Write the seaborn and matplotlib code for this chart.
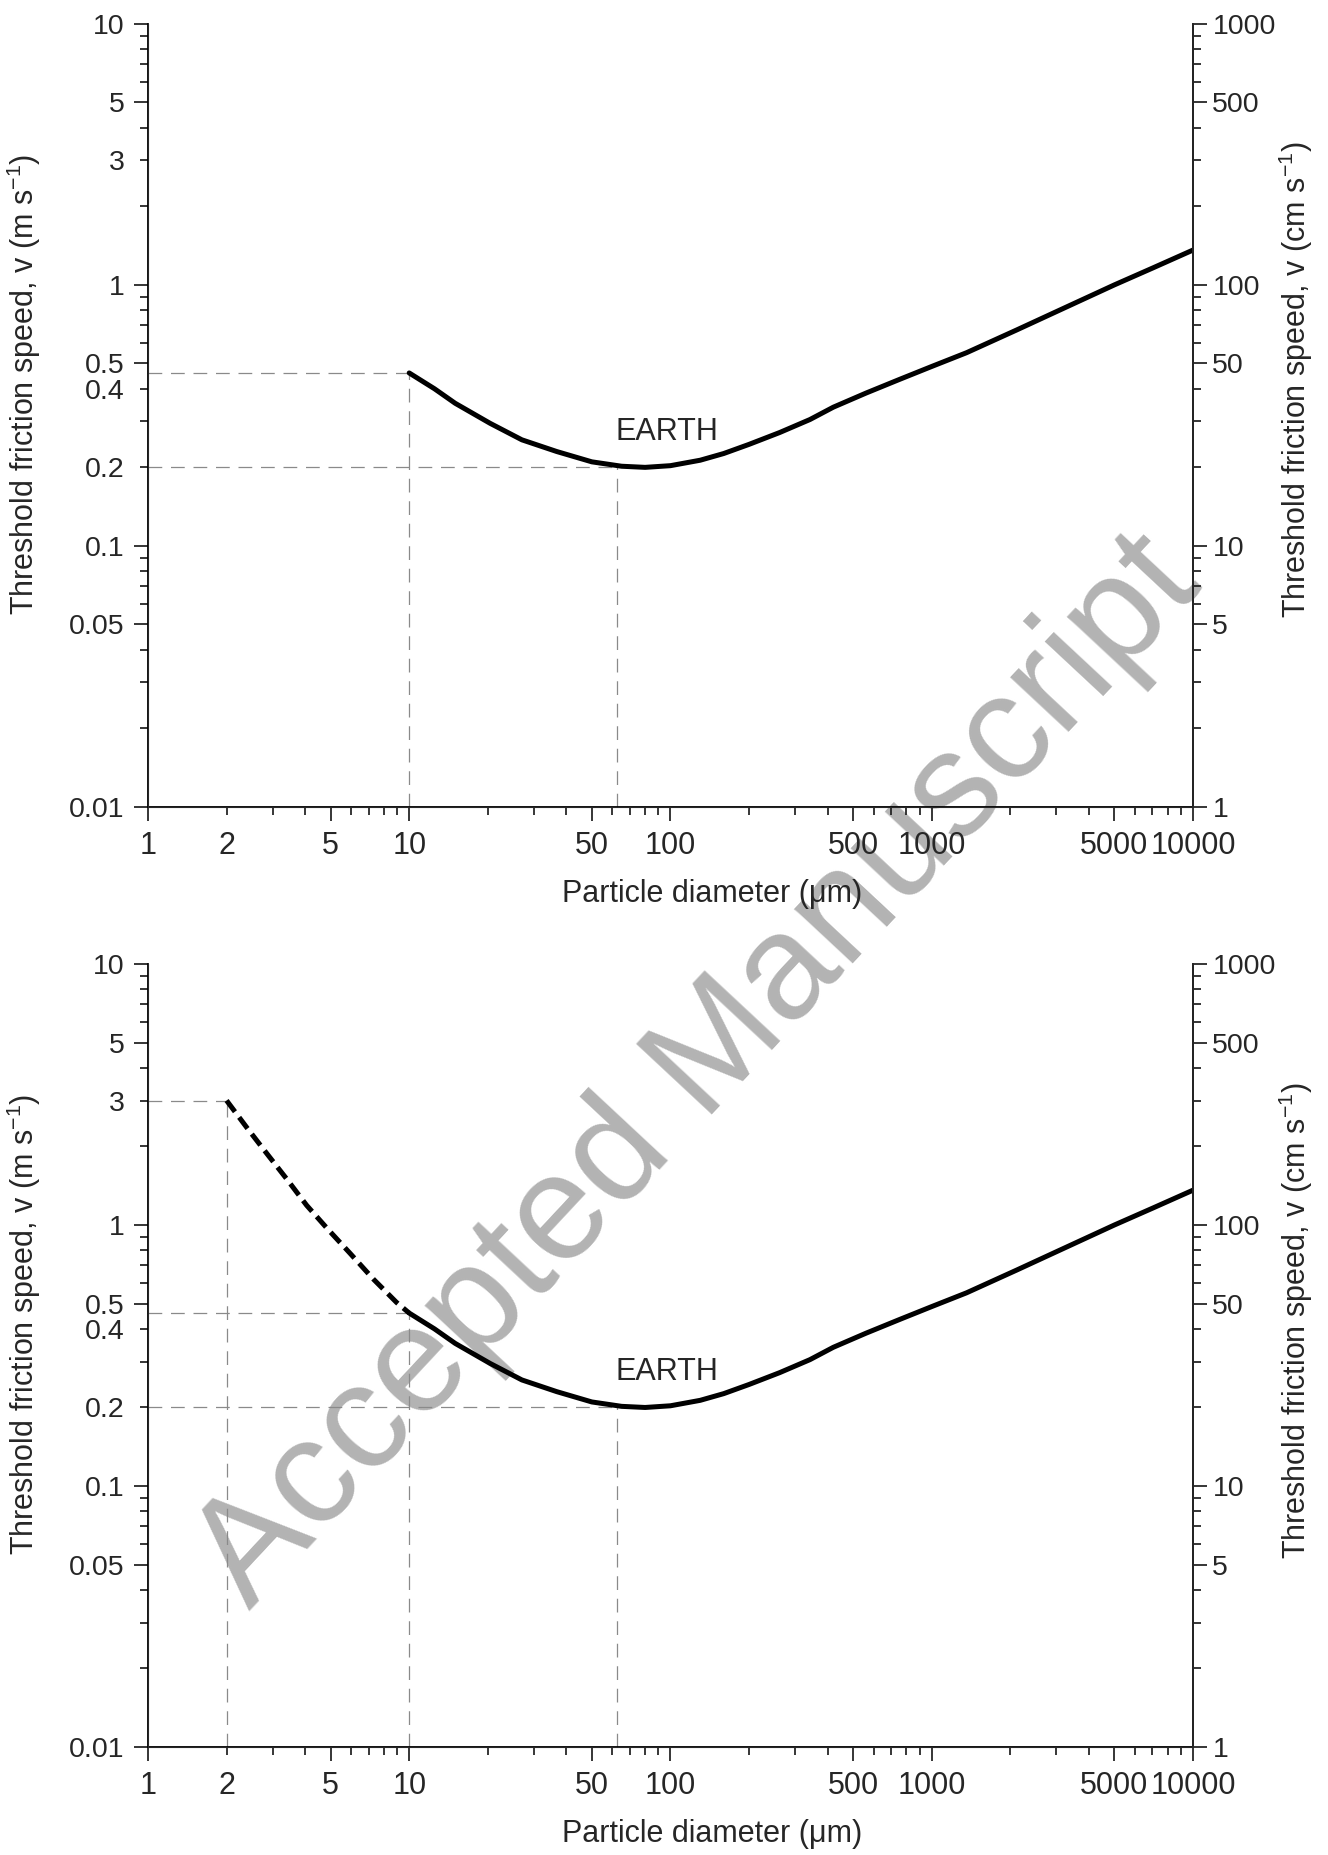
import matplotlib
matplotlib.use("Agg")
import matplotlib.pyplot as plt
import matplotlib.ticker as mticker
import pandas as pd
import seaborn as sns

# threshold friction speed curve (diameter in um, speed in m/s)
diam_solid = [10, 12.5, 15, 20.4, 27, 36.7, 50, 65, 80, 100, 130, 160, 200, 262, 342, 420,
              560, 755, 1000, 1360, 2114, 3000, 5000, 7000, 10000]
speed_solid = [0.46, 0.4, 0.352, 0.295, 0.255, 0.23, 0.21, 0.202, 0.2, 0.203, 0.213, 0.226,
               0.245, 0.272, 0.305, 0.34, 0.385, 0.435, 0.487, 0.55, 0.672, 0.79, 1.0, 1.16, 1.36]
# extrapolated part below 10 um (lower panel only)
diam_dash = [2, 2.4, 2.85, 3.4, 4.05, 4.9, 5.94, 7.3, 8.95, 10]
speed_dash = [3.0, 2.35, 1.88, 1.5, 1.19, 0.96, 0.779, 0.62, 0.505, 0.46]

# guide lines (diameter, speed)
guides_top = [(10, 0.46), (62.5, 0.2)]
guides_bottom = [(2, 3.0), (10, 0.46), (62.5, 0.2)]

x_major = [1, 5, 10, 50, 100, 500, 1000, 5000, 10000]
x_minor_labeled = [2]
y_major = [0.01, 0.05, 0.1, 0.5, 1, 5, 10]
y_minor_labeled = [0.2, 0.4, 3]
y2_major = [1, 5, 10, 50, 100, 500, 1000]

sns.set_style("ticks")
plt.rcParams["font.family"] = ["Liberation Sans", "DejaVu Sans"]
plt.rcParams["mathtext.fontset"] = "custom"
plt.rcParams["mathtext.rm"] = "Liberation Sans"
plt.rcParams["mathtext.it"] = "Liberation Sans"

FS = 22
FS_Y = 20.5


def fmt(v):
    return f"{v:g}"


def setup_axes(ax):
    ax.set_xscale("log")
    ax.set_yscale("log")
    ax.set_xlim(1, 10000)
    ax.set_ylim(0.01, 10)
    ax.set_facecolor("none")
    for s in ["left", "bottom", "right"]:
        ax.spines[s].set_linewidth(1.3)
        ax.spines[s].set_color("black")
    ax.spines["top"].set_visible(False)

    ax.xaxis.set_major_locator(mticker.FixedLocator(x_major))
    ax.xaxis.set_major_formatter(mticker.FuncFormatter(lambda v, _: fmt(v)))
    ax.xaxis.set_minor_locator(mticker.LogLocator(base=10, subs=[2, 3, 4, 6, 7, 8, 9], numticks=20))
    ax.xaxis.set_minor_formatter(mticker.FuncFormatter(
        lambda v, _: fmt(v) if any(abs(v - m) < 1e-6 for m in x_minor_labeled) else ""))

    ax.yaxis.set_major_locator(mticker.FixedLocator(y_major))
    ax.yaxis.set_major_formatter(mticker.FuncFormatter(lambda v, _: fmt(v)))
    ax.yaxis.set_minor_locator(mticker.LogLocator(base=10, subs=[2, 3, 4, 6, 7, 8, 9], numticks=20))
    ax.yaxis.set_minor_formatter(mticker.FuncFormatter(
        lambda v, _: fmt(v) if any(abs(v - m) < 1e-9 for m in y_minor_labeled) else ""))

    ax.tick_params(which="major", direction="out", length=10, width=1.3, pad=7)
    ax.tick_params(which="minor", direction="out", length=5.5, width=1.3, pad=11.5)
    ax.tick_params(axis="x", which="both", labelsize=FS)
    ax.tick_params(axis="y", which="both", labelsize=FS_Y)

    ax.set_xlabel("Particle diameter (\u03bcm)", fontsize=FS)
    ax.xaxis.set_label_coords(0.54, -0.092)
    ax.set_ylabel("Threshold friction speed, v (m s$^{-1}$)", fontsize=FS)
    ax.yaxis.set_label_coords(-0.1, 0.54)

    ax2 = ax.twinx()
    ax2.set_yscale("log")
    ax2.set_ylim(1, 1000)
    ax2.spines["top"].set_visible(False)
    ax2.spines["right"].set_linewidth(1.3)
    ax2.yaxis.set_major_locator(mticker.FixedLocator(y2_major))
    ax2.yaxis.set_major_formatter(mticker.FuncFormatter(lambda v, _: fmt(v)))
    ax2.yaxis.set_minor_locator(mticker.LogLocator(base=10, subs=[2, 3, 4, 6, 7, 8, 9], numticks=20))
    ax2.yaxis.set_minor_formatter(mticker.NullFormatter())
    ax2.tick_params(which="major", direction="out", length=10, width=1.3, labelsize=FS_Y, pad=4)
    ax2.tick_params(which="minor", direction="out", length=5.5, width=1.3)
    ax2.set_ylabel("Threshold friction speed, v (cm s$^{-1}$)", fontsize=FS)
    ax2.yaxis.set_label_coords(1.08, 0.545)
    return ax2


def draw_guides(ax, guides):
    for d, v in guides:
        ax.plot([1, d], [v, v], color="#8a8a8a", lw=0.9, ls=(0, (11, 7)), zorder=1)
        ax.plot([d, d], [0.01, v], color="#8a8a8a", lw=0.9, ls=(0, (11, 7)), zorder=1)


fig = plt.figure(figsize=(13.28, 18.55), dpi=100)
ax_top = fig.add_axes([0.1114, 0.5650, 0.7869, 0.4221])
ax_bot = fig.add_axes([0.1114, 0.0582, 0.7869, 0.4221])

solid = pd.DataFrame({"diameter": diam_solid, "speed": speed_solid})
dash = pd.DataFrame({"diameter": diam_dash, "speed": speed_dash})

for ax, guides in [(ax_top, guides_top), (ax_bot, guides_bottom)]:
    draw_guides(ax, guides)
    sns.lineplot(data=solid, x="diameter", y="speed", ax=ax, color="black",
                 lw=3.6, sort=False, estimator=None, zorder=3)
    ax.lines[-1].set_solid_joinstyle("round")
    ax.text(97, 0.274, "EARTH", fontsize=22, ha="center", va="center")

sns.lineplot(data=dash, x="diameter", y="speed", ax=ax_bot, color="black",
             lw=3.6, sort=False, estimator=None, zorder=3)
ax_bot.lines[-1].set_dashes([2.8, 1.4])

for ax in [ax_top, ax_bot]:
    setup_axes(ax)

# watermark
fig.text(0.526, 0.422, "Accepted Manuscript", fontsize=108, color="#b3b3b3",
         rotation=47, ha="center", va="center", zorder=-1)

fig.savefig("out.png", dpi=100)
